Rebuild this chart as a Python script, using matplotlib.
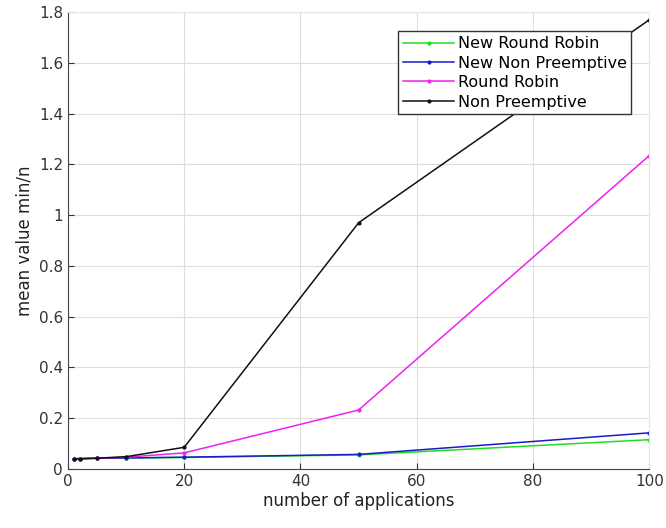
import matplotlib
matplotlib.use("Agg")
import matplotlib.pyplot as plt

# number of applications
apps = [1, 2, 5, 10, 20, 50, 100]

new_round_robin = [0.040, 0.040, 0.042, 0.043, 0.045, 0.055, 0.115]
new_non_preemptive = [0.040, 0.040, 0.042, 0.043, 0.046, 0.057, 0.142]
round_robin = [0.040, 0.040, 0.042, 0.046, 0.063, 0.232, 1.235]
non_preemptive = [0.040, 0.040, 0.042, 0.048, 0.085, 0.970, 1.770]

series = [
    ("New Round Robin", new_round_robin, "#22dd22"),
    ("New Non Preemptive", new_non_preemptive, "#1a1acc"),
    ("Round Robin", round_robin, "#ee22ee"),
    ("Non Preemptive", non_preemptive, "#111111"),
]

fig = plt.figure(figsize=(6.66, 5.28), dpi=100)
ax = fig.add_axes([0.102, 0.112, 0.873, 0.865])

for nome, valores, cor in series:
    ax.plot(apps, valores, color=cor, lw=1.1, marker=".", ms=4, label=nome)

ax.set_xlim(0, 100)
ax.set_ylim(0, 1.8)
ax.set_xticks([0, 20, 40, 60, 80, 100])
ax.set_yticks([0, 0.2, 0.4, 0.6, 0.8, 1.0, 1.2, 1.4, 1.6, 1.8])
ax.set_yticklabels(["0", "0.2", "0.4", "0.6", "0.8", "1", "1.2", "1.4", "1.6", "1.8"])
ax.grid(True, color="#dddddd", lw=0.8)
ax.tick_params(direction="in", labelsize=11, colors="#333333", length=4)

ax.spines["left"].set_color("#444444")
ax.spines["bottom"].set_color("#444444")
ax.spines["top"].set_color("#e6e6e6")
ax.spines["right"].set_color("#e6e6e6")

ax.set_xlabel("number of applications", fontsize=12, color="#222222", labelpad=2)
ax.set_ylabel("mean value min/n", fontsize=12, color="#222222", labelpad=4)

leg = ax.legend(loc="upper right", bbox_to_anchor=(0.969, 0.958), fontsize=11.5,
                fancybox=False, framealpha=1, edgecolor="#333333",
                handlelength=3.2, handletextpad=0.2, borderpad=0.3,
                labelspacing=0.28, borderaxespad=0)
leg.get_frame().set_linewidth(1.0)

plt.savefig("out.png", dpi=100)
